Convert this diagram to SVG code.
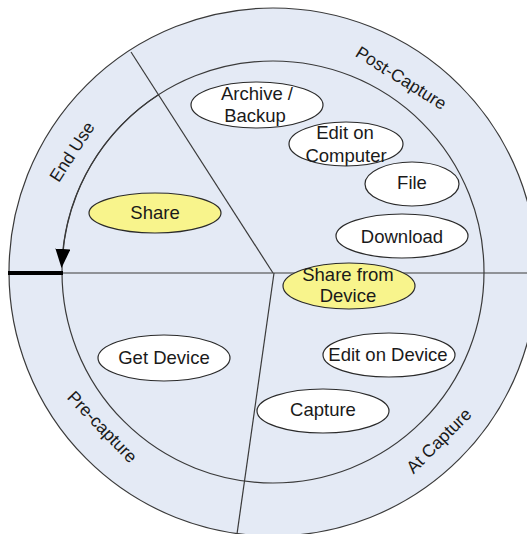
<svg xmlns="http://www.w3.org/2000/svg" width="527" height="534" viewBox="0 0 527 534">
<style>
.ring{fill:#e4eaf5;stroke:#3a3a3a;stroke-width:1.2}
.ln{fill:none;stroke:#3a3a3a;stroke-width:1.2}
.node ellipse{stroke:#2a2a2a;stroke-width:1.2}
.w{fill:#ffffff}
.y{fill:#f8f48c}
text{font-family:"Liberation Sans",Arial,sans-serif;font-size:18.5px;fill:#1a1a1a;text-anchor:middle}
.lbl{font-size:17.5px}
</style>
<defs>
<marker id="ah" markerUnits="userSpaceOnUse" markerWidth="22" markerHeight="16" refX="8" refY="7.5" orient="auto">
<path d="M0,0 L19,7.5 L0,15 z" fill="#000"/>
</marker>
</defs>
<rect width="527" height="534" fill="#fff"/>
<g id="rings">
<circle class="ring" cx="273" cy="272" r="264"/>
<circle class="ring" cx="273" cy="272" r="211"/>
</g>
<g id="connectors">
<line class="ln" x1="8" y1="273" x2="527" y2="273"/>
<line class="ln" x1="131" y1="52" x2="273" y2="273"/>
<line class="ln" x1="274" y1="273" x2="237" y2="534"/>
<line x1="8" y1="273" x2="63" y2="273" stroke="#000" stroke-width="4"/>
<path class="ln" d="M159,94.5 A211,211 0 0,0 62.3,257" marker-end="url(#ah)"/>
</g>
<g id="ring-labels">
<text class="lbl" transform="translate(398,83) rotate(32)">Post-Capture</text>
<text class="lbl" transform="translate(77,155) rotate(-57)">End Use</text>
<text class="lbl" transform="translate(98,431) rotate(46)">Pre-capture</text>
<text class="lbl" transform="translate(443,445) rotate(-45)">At Capture</text>
</g>
<g id="archive" class="node"><ellipse class="w" cx="257" cy="105" rx="66" ry="23"/><text x="257" y="100">Archive /</text><text x="255" y="122">Backup</text></g>
<g id="edit-computer" class="node"><ellipse class="w" cx="346" cy="144" rx="57" ry="22"/><text x="345" y="139">Edit on</text><text x="346" y="162">Computer</text></g>
<g id="file" class="node"><ellipse class="w" cx="412" cy="184" rx="47" ry="22"/><text x="412" y="189">File</text></g>
<g id="download" class="node"><ellipse class="w" cx="402" cy="236" rx="66" ry="22"/><text x="402" y="243">Download</text></g>
<g id="share" class="node"><ellipse class="y" cx="155" cy="213" rx="66" ry="20"/><text x="155" y="219">Share</text></g>
<g id="share-device" class="node"><ellipse class="y" cx="349" cy="286" rx="66" ry="23"/><text x="348" y="281">Share from</text><text x="348" y="302">Device</text></g>
<g id="edit-device" class="node"><ellipse class="w" cx="389" cy="355" rx="66" ry="22"/><text x="388" y="361">Edit on Device</text></g>
<g id="capture" class="node"><ellipse class="w" cx="323" cy="411" rx="66" ry="22"/><text x="323" y="416">Capture</text></g>
<g id="get-device" class="node"><ellipse class="w" cx="164" cy="358" rx="66" ry="23"/><text x="164" y="364">Get Device</text></g>
</svg>
